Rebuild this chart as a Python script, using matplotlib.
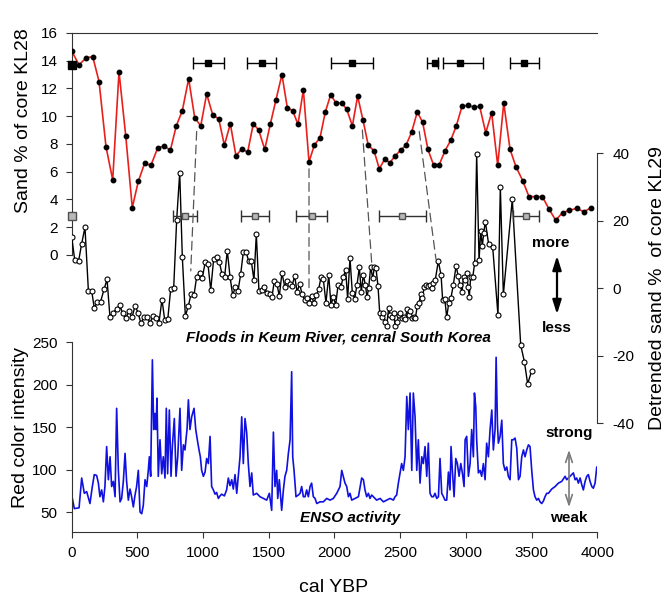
import matplotlib
matplotlib.use('Agg')
import matplotlib.pyplot as plt
from matplotlib.patches import ConnectionPatch

plt.rcParams['font.family'] = ['Liberation Sans', 'DejaVu Sans']
plt.rcParams['axes.unicode_minus'] = False

# KL28 sand % (age cal YBP, value)
kl28 = [(0, 14.7), (56, 13.7), (109, 14.2), (160, 14.3), (208, 12.5), (261, 7.8), (312, 5.4),
        (360, 13.2), (411, 8.6), (461, 3.4), (507, 5.3), (555, 6.6), (603, 6.45), (654, 7.7),
        (702, 7.85), (751, 7.55), (796, 9.3), (842, 10.4), (890, 12.7), (936, 9.9), (982, 9.3),
        (1027, 11.6), (1073, 10.1), (1119, 9.8), (1162, 7.9), (1207, 9.45), (1250, 7.15),
        (1296, 7.65), (1339, 7.4), (1382, 9.45), (1423, 9.0), (1469, 7.6), (1511, 9.4),
        (1555, 11.2), (1600, 13.0), (1641, 10.6), (1682, 10.4), (1722, 9.4), (1763, 11.9),
        (1806, 6.7), (1846, 7.9), (1890, 8.45), (1930, 10.3), (1971, 11.55), (2011, 10.95),
        (2055, 10.95), (2093, 10.5), (2136, 9.3), (2176, 11.45), (2217, 9.7), (2257, 7.9),
        (2301, 7.5), (2341, 6.2), (2382, 6.9), (2422, 6.65), (2463, 7.15), (2504, 7.55),
        (2544, 7.9), (2587, 8.85), (2630, 10.3), (2671, 9.55), (2711, 7.6), (2755, 6.45),
        (2797, 6.5), (2841, 7.5), (2884, 8.25), (2927, 9.3), (2970, 10.7), (3016, 10.8),
        (3059, 10.65), (3105, 10.7), (3151, 8.8), (3196, 10.25), (3242, 6.45), (3288, 10.95),
        (3336, 7.6), (3381, 6.35), (3432, 5.35), (3480, 4.2), (3531, 4.2), (3582, 4.2),
        (3632, 3.3), (3683, 2.5), (3737, 3.05), (3787, 3.2), (3843, 3.35), (3899, 3.1), (3952, 3.4)]

# KL28 dates with error ranges
kl28_date = [0, 1040, 1448, 2136, 2765, 2955, 3444]
kl28_lo = [0, 921, 1336, 1973, 2702, 2823, 3336]
kl28_hi = [0, 1159, 1557, 2295, 2790, 3128, 3559]
kl28_date_y = 13.8

# KL29 detrended sand %
kl29 = [(0, 15.2), (23, 8.3), (53, 8.1), (76, 13.2), (101, 18.0), (127, -0.8), (152, -0.8),
        (172, -6.0), (195, -4.0), (220, -4.0), (246, -0.4), (269, 2.6), (291, -8.5), (314, -7.3),
        (342, -6.3), (365, -5.0), (388, -7.5), (411, -9.0), (436, -6.8), (459, -8.7), (482, -5.3),
        (505, -7.3), (527, -10.5), (550, -8.5), (573, -8.5), (596, -10.3), (619, -8.3),
        (642, -8.8), (664, -10.3), (687, -3.4), (708, -9.5), (731, -9.3), (753, -0.4),
        (776, -0.1), (799, 20.3), (822, 34.2), (842, 9.1), (865, -8.3), (888, -5.3), (908, -1.8),
        (931, -2.0), (951, 3.35), (974, 4.5), (994, 3.1), (1017, 7.8), (1037, 7.1), (1058, -0.6),
        (1080, 8.5), (1103, 9.1), (1123, 7.8), (1144, 4.1), (1164, 3.35), (1184, 11.1),
        (1205, 3.35), (1225, -2.1), (1245, 0.2), (1266, -0.8), (1286, 4.15), (1306, 10.6),
        (1327, 10.8), (1347, 7.9), (1367, 7.9), (1387, 2.4), (1405, 16.0), (1425, -0.8),
        (1446, -0.6), (1466, 0.4), (1486, -1.6), (1507, -1.8), (1524, -2.6), (1542, 2.1),
        (1562, 1.2), (1580, -2.4), (1600, 4.5), (1621, 0.4), (1638, 2.1), (1659, 1.1),
        (1677, 0.7), (1697, 3.55), (1715, -1.1), (1735, 1.2), (1753, -1.8), (1773, -3.4),
        (1791, -2.9), (1808, -4.4), (1826, -2.4), (1844, -4.5), (1862, -2.1), (1880, -0.3),
        (1897, 3.2), (1915, 2.6), (1935, -4.4), (1956, 3.85), (1973, -5.0), (1991, -2.6),
        (2009, -5.0), (2027, 0.9), (2049, 0.4), (2067, 3.35), (2085, 5.3), (2100, -3.1),
        (2118, 8.8), (2136, -1.6), (2154, -3.1), (2171, 0.9), (2189, 6.1), (2204, -1.1),
        (2219, 3.85), (2235, 0.9), (2247, -2.6), (2260, -0.1), (2275, 6.3), (2291, 2.9),
        (2303, 6.1), (2316, 5.8), (2331, 0.6), (2344, -7.3), (2359, -8.5), (2372, -7.5),
        (2384, -10.0), (2397, -11.3), (2412, -6.0), (2425, -8.0), (2438, -8.7), (2450, -7.5),
        (2463, -11.3), (2476, -10.0), (2489, -8.0), (2501, -7.3), (2514, -9.0), (2527, -8.5),
        (2539, -9.2), (2552, -6.3), (2565, -8.0), (2577, -6.7), (2590, -9.0), (2603, -8.5),
        (2615, -9.0), (2630, -5.3), (2643, -4.5), (2656, -1.8), (2668, -2.8), (2684, 0.4),
        (2699, 0.9), (2714, 0.6), (2727, 0.9), (2740, 0.1), (2752, 1.4), (2767, 2.4),
        (2790, 8.0), (2811, 3.85), (2823, -3.55), (2839, -3.1), (2854, -8.7), (2869, -4.5),
        (2887, -2.8), (2904, 0.9), (2925, 6.5), (2942, 3.55), (2955, 0.9), (2970, -1.1),
        (2983, 3.35), (2996, 2.4), (3006, 4.5), (3016, 0.4), (3026, -2.6), (3036, 3.2),
        (3052, 3.2), (3067, 7.5), (3082, 39.7), (3100, 8.3), (3113, 17.0), (3125, 12.4),
        (3135, 16.2), (3148, 19.7), (3173, 13.0), (3204, 12.1), (3244, -8.0), (3262, 30.0),
        (3285, -1.9), (3353, 26.3), (3417, -16.9), (3445, -21.8), (3470, -28.4), (3501, -24.5)]

kl29_date = [0, 865, 1395, 1826, 2511, 3458]
kl29_lo = [0, 773, 1286, 1705, 2339, 3361]
kl29_hi = [0, 956, 1504, 1945, 2694, 3559]
kl29_date_y = 21.4

# dashed tie lines: (age, KL28 value) -> (age, KL29 value)
ties = [((951, 8.9), (906, 5.1)),
        ((1806, 6.2), (1806, -0.6)),
        ((2212, 9.0), (2283, 7.5)),
        ((2645, 8.9), (2772, 8.6))]

# red colour intensity (ENSO proxy)
enso = [(0, 70), (20, 54), (56, 55), (76, 90), (96, 72), (114, 74), (139, 60), (157, 80), (172, 94),
        (190, 93), (203, 84), (215, 68), (228, 76), (241, 62), (253, 80), (266, 127), (279, 88),
        (292, 115), (304, 80), (317, 86), (330, 68), (342, 172), (355, 99), (368, 62), (380, 66),
        (393, 86), (406, 119), (418, 86), (431, 64), (444, 77), (456, 68), (469, 56), (482, 70),
        (494, 80), (507, 99), (520, 50), (533, 48), (545, 58), (558, 88), (571, 80), (583, 99),
        (591, 115), (601, 92), (614, 229), (624, 147), (634, 166), (642, 147), (649, 184),
        (659, 92), (672, 135), (685, 95), (697, 115), (710, 90), (720, 172), (730, 95), (743, 170),
        (756, 92), (766, 127), (781, 160), (794, 92), (807, 115), (824, 172), (837, 99), (850, 129),
        (862, 123), (878, 148), (888, 182), (900, 147), (913, 162), (931, 172), (944, 147),
        (956, 135), (969, 123), (979, 115), (989, 99), (1002, 92), (1015, 97), (1027, 113),
        (1040, 107), (1053, 139), (1065, 80), (1078, 76), (1091, 71), (1103, 73), (1116, 66),
        (1129, 69), (1141, 71), (1162, 69), (1179, 76), (1192, 90), (1205, 81), (1218, 88),
        (1230, 77), (1243, 94), (1256, 72), (1268, 92), (1281, 115), (1294, 162), (1306, 107),
        (1319, 160), (1332, 143), (1344, 107), (1357, 80), (1370, 96), (1382, 70), (1408, 72),
        (1433, 68), (1459, 66), (1484, 64), (1504, 72), (1522, 52), (1535, 144), (1547, 80),
        (1560, 99), (1568, 66), (1580, 88), (1598, 52), (1611, 76), (1623, 92), (1636, 99),
        (1649, 119), (1662, 135), (1674, 215), (1682, 115), (1692, 99), (1707, 68), (1725, 70),
        (1738, 72), (1750, 80), (1763, 68), (1776, 68), (1788, 76), (1801, 68), (1814, 80),
        (1826, 84), (1839, 68), (1852, 66), (1865, 60), (1890, 62), (1915, 62), (1941, 66),
        (1966, 64), (1991, 66), (2017, 72), (2042, 80), (2055, 99), (2067, 92), (2080, 84),
        (2093, 80), (2106, 68), (2118, 72), (2131, 64), (2156, 66), (2182, 68), (2207, 90),
        (2220, 88), (2232, 76), (2245, 68), (2258, 72), (2270, 66), (2283, 70), (2296, 68),
        (2321, 64), (2347, 66), (2372, 62), (2397, 64), (2423, 66), (2448, 64), (2461, 68),
        (2473, 70), (2486, 84), (2499, 96), (2511, 107), (2524, 99), (2537, 115), (2550, 186),
        (2562, 147), (2575, 190), (2588, 99), (2600, 190), (2613, 162), (2626, 99), (2638, 135),
        (2651, 84), (2664, 115), (2676, 107), (2689, 127), (2702, 92), (2714, 131), (2727, 72),
        (2740, 68), (2753, 68), (2765, 72), (2778, 66), (2791, 68), (2803, 113), (2816, 72),
        (2829, 68), (2841, 64), (2854, 64), (2867, 97), (2879, 76), (2887, 127), (2897, 99),
        (2910, 68), (2923, 113), (2935, 107), (2948, 92), (2961, 107), (2973, 96), (2986, 80),
        (2994, 135), (3006, 139), (3019, 92), (3032, 107), (3044, 147), (3057, 115), (3065, 190),
        (3075, 174), (3082, 135), (3095, 96), (3108, 99), (3120, 92), (3133, 107), (3146, 88),
        (3158, 131), (3171, 115), (3184, 147), (3197, 170), (3209, 123), (3222, 147), (3230, 232),
        (3240, 154), (3247, 131), (3260, 139), (3273, 158), (3285, 107), (3298, 99), (3311, 103),
        (3323, 92), (3336, 88), (3349, 135), (3361, 135), (3374, 137), (3387, 125), (3400, 88),
        (3412, 92), (3425, 115), (3438, 123), (3450, 115), (3463, 123), (3476, 129), (3488, 127),
        (3501, 99), (3514, 76), (3526, 68), (3539, 64), (3552, 66), (3564, 62), (3577, 60),
        (3590, 63), (3602, 68), (3615, 72), (3628, 72), (3653, 77), (3679, 80), (3691, 82),
        (3704, 84), (3729, 86), (3755, 92), (3767, 88), (3780, 90), (3793, 92), (3805, 94),
        (3818, 96), (3831, 88), (3843, 90), (3856, 84), (3869, 90), (3882, 82), (3894, 76),
        (3907, 86), (3920, 92), (3932, 94), (3945, 86), (3958, 80), (3970, 78), (3983, 84),
        (3996, 103), (4003, 99)]

W, H = 670, 602
fig = plt.figure(figsize=(W / 100, H / 100), dpi=100)
rect = [71.7 / W, 1 - 532 / H, (597.3 - 71.7) / W, (532 - 33) / H]

spine_c = '#333333'

# --- KL28 (top) ---
ax1 = fig.add_axes(rect)
ax1.patch.set_visible(False)
ax1.set_xlim(0, 4000)
ax1.set_ylim(-20, 16)
ax1.set_yticks(range(0, 17, 2))
ax1.spines['bottom'].set_visible(False)
ax1.spines['right'].set_visible(False)
ax1.spines['left'].set_bounds(0, 16)
for s in ax1.spines.values():
    s.set_color(spine_c)
ax1.tick_params(bottom=False, labelbottom=False, direction='out', length=4,
                labelsize=11, color=spine_c, pad=6)
x, y = zip(*kl28)
ax1.plot(x, y, '-', color='#e8201c', lw=1.2, zorder=3)
ax1.plot(x, y, 'o', color='black', ms=3.2, zorder=4)
ax1.errorbar(kl28_date[1:], [kl28_date_y] * (len(kl28_date) - 1),
             xerr=[[c - l for c, l in zip(kl28_date[1:], kl28_lo[1:])],
                   [h - c for c, h in zip(kl28_date[1:], kl28_hi[1:])]],
             fmt='s', color='black', ms=4.5, capsize=4.5, elinewidth=1, capthick=1)
ax1.plot(kl28_date[0], 13.7, 's', color='black', ms=5.5, clip_on=False, zorder=5)
ax1.set_ylabel('Sand % of core KL28', fontsize=14)
ax1.yaxis.set_label_coords(21 / W - rect[0], 1 - (121 - 33) / (532 - 33), transform=ax1.transAxes)

# --- KL29 (middle, right axis) ---
ax2 = ax1.twinx()
ax2.set_ylim(-72.3, 75.6)
ax2.set_yticks(range(-40, 41, 20))
for k in ['top', 'bottom', 'left']:
    ax2.spines[k].set_visible(False)
ax2.spines['right'].set_bounds(-40, 40)
ax2.spines['right'].set_color(spine_c)
ax2.tick_params(direction='out', length=4, labelsize=11, color=spine_c, pad=7)
x, y = zip(*kl29)
ax2.plot(x, y, '-', color='black', lw=1.0, zorder=3)
ax2.plot(x, y, 'o', mfc='white', mec='black', mew=0.8, ms=3.6, zorder=4)
ax2.errorbar(kl29_date[1:], [kl29_date_y] * (len(kl29_date) - 1),
             xerr=[[c - l for c, l in zip(kl29_date[1:], kl29_lo[1:])],
                   [h - c for c, h in zip(kl29_date[1:], kl29_hi[1:])]],
             fmt='s', mfc='#b8b8b8', mec='#505050', ecolor='#303030', ms=5,
             capsize=4.5, elinewidth=1, capthick=1, zorder=5)
ax2.plot(kl29_date[0], kl29_date_y, 's', mfc='#b8b8b8', mec='#505050', ms=5.5,
         clip_on=False, zorder=5)

for (a, b) in ties:
    con = ConnectionPatch(xyA=a, coordsA=ax1.transData, xyB=b, coordsB=ax2.transData,
                          color='#555555', lw=0.9, linestyle=(0, (7, 4)))
    fig.add_artist(con)

# --- red colour intensity (bottom) ---
ax3 = fig.add_axes(rect)
ax3.patch.set_visible(False)
ax3.set_xlim(0, 4000)
ax3.set_ylim(26.5, 613.5)
ax3.set_yticks(range(50, 251, 50))
ax3.set_xticks(range(0, 4001, 500))
ax3.spines['top'].set_visible(False)
ax3.spines['right'].set_visible(False)
ax3.spines['left'].set_bounds(26.5, 250)
for s in ax3.spines.values():
    s.set_color(spine_c)
ax3.tick_params(direction='out', length=4, labelsize=11, color=spine_c, pad=6)
x, y = zip(*enso)
ax3.plot(x, y, '-', color='#1010e0', lw=1.2)

# --- text ---
fig.text(21 / W, 1 - 428 / H, 'Red color intensity', rotation=90, fontsize=14,
         ha='center', va='center')
fig.text(657 / W, 1 - 288 / H, 'Detrended sand %  of core KL29', rotation=90, fontsize=14,
         ha='center', va='center')
fig.text(334 / W, 1 - 588 / H, 'cal YBP', fontsize=14, ha='center', va='center')
fig.text(338 / W, 1 - 338 / H, 'Floods in Keum River, cenral South Korea', fontsize=11,
         fontweight='bold', fontstyle='italic', ha='center', va='center')
fig.text(350 / W, 1 - 518 / H, 'ENSO activity', fontsize=11, fontweight='bold',
         fontstyle='italic', ha='center', va='center')
fig.text(551 / W, 1 - 243 / H, 'more', fontsize=11, fontweight='bold', ha='center', va='center')
fig.text(557 / W, 1 - 328 / H, 'less', fontsize=11, fontweight='bold', ha='center', va='center')
fig.text(569 / W, 1 - 433 / H, 'strong', fontsize=11, fontweight='bold', ha='center', va='center')
fig.text(569 / W, 1 - 518 / H, 'weak', fontsize=11, fontweight='bold', ha='center', va='center')

fig.add_artist(matplotlib.patches.FancyArrowPatch(
    (557 / W, 1 - 253 / H), (557 / W, 1 - 317 / H), transform=fig.transFigure,
    arrowstyle='<|-|>,head_width=0.22,head_length=0.7', color='black', lw=1.6,
    mutation_scale=12))
fig.add_artist(matplotlib.patches.FancyArrowPatch(
    (569 / W, 1 - 447 / H), (569 / W, 1 - 510 / H), transform=fig.transFigure,
    arrowstyle='<->,head_width=0.2,head_length=0.6', color='#7a7a7a', lw=1.2,
    mutation_scale=12))

fig.savefig('out.png', dpi=100)
